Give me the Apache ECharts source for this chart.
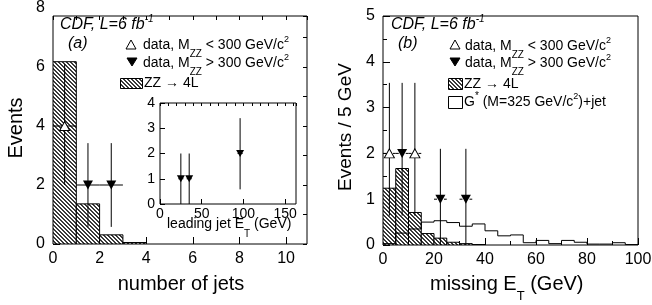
<!DOCTYPE html>
<html>
<head>
<meta charset="utf-8">
<script src="https://cdn.jsdelivr.net/npm/echarts@6/dist/echarts.min.js"></script>
<style>
html, body { margin: 0; padding: 0; background: #fff; }
#chart { width: 652px; height: 305px; }
</style>
</head>
<body>
<div id="chart"></div>
<script>
// (a) number of jets
var jetEdges = [0, 1, 2, 3, 4];
var jetZZ = [6.18, 1.36, 0.31, 0.05];
var jetLowX = [0.5], jetLowY = [4], jetLowDn = [2.0], jetLowUp = [6.1];
var jetHighX = [1.5, 2.5], jetHighY = [2, 2], jetHighDn = [0.58, 0.58], jetHighUp = [3.42, 3.42];
var jetTicks = [0, 2, 4, 6, 8, 10];
// inset: leading jet ET
var ljX = [25, 35, 96], ljY = [1, 1, 2], ljDn = [0, 0, 0.58], ljUp = [2.0, 2.0, 3.4];
// (b) missing ET, 5 GeV bins
var metEdges = [0, 5, 10, 15, 20, 25, 30, 35, 40, 45, 50, 55, 60, 65, 70, 75, 80, 85, 90, 95, 100];
var metZZ = [1.24, 1.67, 0.71, 0.25, 0.15, 0.06, 0.03, 0.01, 0, 0, 0, 0, 0, 0, 0, 0, 0, 0, 0, 0];
var metGstar = [0.03, 0.26, 0.35, 0.50, 0.53, 0.49, 0.41, 0.46, 0.31, 0.20, 0.22, 0.05, 0.10, 0.03, 0.10, 0.06, 0.02, 0.02, 0.05, 0.01];
var metLowX = [2.5, 12.5], metLowY = [2, 2], metLowDn = [0.64, 0.64], metLowUp = [3.54, 3.54];
var metHighX = [7.5, 22.5, 32.5], metHighY = [2, 1, 1], metHighDn = [0.64, 0, 0], metHighUp = [3.54, 2.1, 2.1];

var FONT = '"Liberation Sans", Arial, sans-serif';

// hatch pattern
var hc = document.createElement('canvas');
hc.width = 4; hc.height = 4;
var g = hc.getContext('2d');
g.fillStyle = '#fff'; g.fillRect(0, 0, 4, 4);
g.fillStyle = '#3a3a3a';
for (var i = 0; i < 4; i++) { g.fillRect(i, i, 1, 1); g.fillRect((i + 1) % 4, i, 1, 1); }
var hatch = { type: 'pattern', image: hc, repeat: 'repeat' };

function histData(edges, vals) {
	return vals.map(function(v, i) { return [edges[i], edges[i + 1], v, i ? vals[i - 1] : 0]; });
}
function errData(xs, ys, dn, up, xe) {
	return xs.map(function(x, i) { return [x, ys[i], dn[i], up[i], xe]; });
}
function pts(xs, ys) {
	return xs.map(function(x, i) { return [x, ys[i]]; });
}

function renderHist(params, api) {
	var v = api.value(2);
	if (v <= 0) return;
	var p0 = api.coord([api.value(0), 0]);
	var p1 = api.coord([api.value(1), v]);
	return {
		type: 'rect',
		shape: { x: p0[0], y: p1[1], width: p1[0] - p0[0], height: p0[1] - p1[1] },
		style: { fill: hatch, stroke: '#000', lineWidth: 1 }
	};
}
// open histogram outline: rise from previous bin, then across
function renderStep(params, api) {
	var a = api.coord([api.value(0), api.value(3)]);
	var b = api.coord([api.value(0), api.value(2)]);
	var c = api.coord([api.value(1), api.value(2)]);
	return { type: 'polyline', shape: { points: [a, b, c] }, style: { stroke: '#000', lineWidth: 1, fill: null } };
}
function renderErr(dash) {
	return function(params, api) {
		var x = api.value(0), y = api.value(1), xe = api.value(4);
		var a = api.coord([x, api.value(2)]), b = api.coord([x, api.value(3)]);
		var c = api.coord([x - xe, y]), d = api.coord([x + xe, y]);
		return {
			type: 'group',
			children: [
				{ type: 'line', shape: { x1: a[0], y1: a[1], x2: b[0], y2: b[1] }, style: { stroke: '#000', lineWidth: 1 } },
				{ type: 'line', shape: { x1: c[0], y1: c[1], x2: d[0], y2: d[1] }, style: { stroke: '#000', lineWidth: 1, lineDash: dash } }
			]
		};
	};
}

// axis helpers
function axis(grid, min, max, interval, tickLen, fs, margin, showMax, extra) {
	var a = {
		type: 'value', gridIndex: grid, min: min, max: max, interval: interval,
		axisLine: { show: false, onZero: false },
		axisTick: { show: true, inside: true, length: tickLen, lineStyle: { color: '#000', width: 1 } },
		axisLabel: { show: fs > 0, fontSize: fs, fontFamily: FONT, color: '#000', margin: margin, showMaxLabel: showMax, showMinLabel: true },
		splitLine: { show: false }
	};
	for (var k in extra) a[k] = extra[k];
	return a;
}

var meas = document.createElement('canvas').getContext('2d');
function runText(x, y, parts) {
	// parts: [text, size, dy, italic]
	var out = [], cx = x;
	parts.forEach(function(p) {
		var font = (p[3] ? 'italic ' : '') + p[1] + 'px ' + FONT;
		meas.font = font;
		out.push({ type: 'text', x: cx, y: y + p[2], silent: true,
			style: { text: p[0], font: font, fill: '#000', align: 'left', verticalAlign: 'middle', textAlign: 'left', textVerticalAlign: 'middle' } });
		cx += meas.measureText(p[0]).width;
	});
	return out;
}
function tri(x, y, down, fill) {
	var pts = down ? [[x - 5, y - 4], [x + 5, y - 4], [x, y + 4]] : [[x - 5, y + 4], [x + 5, y + 4], [x, y - 5]];
	return { type: 'polygon', shape: { points: pts }, style: { fill: fill, stroke: '#000', lineWidth: 1 } };
}
function ytitle(x, y, text, fs) {
	return { type: 'text', x: x, y: y, rotation: Math.PI / 2,
		style: { text: text, font: fs + 'px ' + FONT, fill: '#000', align: 'center', verticalAlign: 'middle', textAlign: 'center', textVerticalAlign: 'middle' } };
}

var graphics = [].concat(
	runText(60, 25, [['CDF, L=6 fb', 16, 0, true], ['-1', 10, -6, true]]),
	runText(68, 44, [['(a)', 16, 0, true]]),
	[tri(131, 45, false, '#fff')],
	runText(143, 45, [['data, M', 14, 0], ['ZZ', 10, 9], [' < 300 GeV/c', 14, 0], ['2', 9, -5]]),
	[tri(132, 62, true, '#000')],
	runText(143, 63, [['data, M', 14, 0], ['ZZ', 10, 9], [' > 300 GeV/c', 14, 0], ['2', 9, -5]]),
	[{ type: 'rect', shape: { x: 120.5, y: 78.5, width: 22, height: 10 }, style: { fill: hatch, stroke: '#000', lineWidth: 1 } }],
	runText(144, 83.5, [['ZZ \u2192 4L', 14, 0]]),

	runText(391, 25, [['CDF, L=6 fb', 16, 0, true], ['-1', 10, -6, true]]),
	runText(398, 44, [['(b)', 16, 0, true]]),
	[tri(455, 45, false, '#fff')],
	runText(465, 46, [['data, M', 14, 0], ['ZZ', 10, 9], [' < 300 GeV/c', 14, 0], ['2', 9, -5]]),
	[tri(455, 62, true, '#000')],
	runText(465, 63, [['data, M', 14, 0], ['ZZ', 10, 9], [' > 300 GeV/c', 14, 0], ['2', 9, -5]]),
	[{ type: 'rect', shape: { x: 448.5, y: 78.5, width: 14, height: 11 }, style: { fill: hatch, stroke: '#000', lineWidth: 1 } }],
	runText(464, 84.5, [['ZZ \u2192 4L', 14, 0]]),
	[{ type: 'rect', shape: { x: 448.5, y: 96.5, width: 14, height: 12 }, style: { fill: '#fff', stroke: '#000', lineWidth: 1 } }],
	runText(464, 102, [['G', 14, 0], ['*', 10, -6], [' (M=325 GeV/c', 14, 0], ['2', 9, -5], [')+jet', 14, 0]]),

	// axis titles
	[{ type: 'text', x: 181, y: 284, style: { text: 'number of jets', font: '20px ' + FONT, fill: '#000', align: 'center', verticalAlign: 'middle', textAlign: 'center', textVerticalAlign: 'middle' } }],
	runText(430, 284, [['missing E', 20, 0], ['T', 13, 12], [' (GeV)', 20, 0]]),
	runText(167, 224, [['leading jet E', 14, 0], ['T', 10, 10], [' (GeV)', 14, 0]]),
	[ytitle(16, 128, 'Events', 20), ytitle(346, 127, 'Events / 5 GeV', 19)]
);

var chart = echarts.init(document.getElementById('chart'), null, { renderer: 'canvas' });
var minor = { show: true, splitNumber: 2, length: 4, lineStyle: { color: '#000' } };
var option = {
	animation: false,
	backgroundColor: '#fff',
	grid: [
		{ left: 53, top: 16, width: 254, height: 228, show: true, borderColor: '#000', borderWidth: 1, outerBoundsMode: 'none' },
		{ left: 160, top: 103, width: 136, height: 101, show: true, borderColor: '#000', borderWidth: 1, backgroundColor: '#fff', outerBoundsMode: 'none' },
		{ left: 383, top: 16, width: 255, height: 229, show: true, borderColor: '#000', borderWidth: 1, outerBoundsMode: 'none' }
	],
	xAxis: [
		axis(0, 0, 10.9, 2, 7, 16, 7, false),
		axis(0, 0, 10.9, 1, 4, 0, 0, false),
		axis(1, 0, 163, 50, 5, 14, 3, false),
		axis(1, 0, 163, 10, 3, 0, 0, false),
		axis(2, 0, 100, 20, 7, 16, 7, true, { minorTick: minor })
	],
	yAxis: [
		axis(0, 0, 7.73, 2, 7, 16, 8, false),
		axis(0, 0, 7.73, 1, 4, 0, 0, false),
		axis(1, 0, 4, 1, 5, 14, 5, true),
		axis(2, 0, 5, 1, 7, 16, 8, true, { minorTick: minor })
	],
	series: [
		// (a)
		{ type: 'custom', xAxisIndex: 0, yAxisIndex: 0, renderItem: renderHist, data: histData(jetEdges, jetZZ), clip: true, z: 2, silent: true },
		{ type: 'custom', xAxisIndex: 0, yAxisIndex: 0, renderItem: renderErr(null), data: errData(jetLowX, jetLowY, jetLowDn, jetLowUp, 0.5), z: 4, silent: true },
		{ type: 'custom', xAxisIndex: 0, yAxisIndex: 0, renderItem: renderErr(null), data: errData(jetHighX, jetHighY, jetHighDn, jetHighUp, 0.5), z: 4, silent: true },
		{ type: 'scatter', xAxisIndex: 0, yAxisIndex: 0, symbol: 'triangle', symbolSize: [10, 9], data: pts(jetLowX, jetLowY),
			itemStyle: { color: '#fff', borderColor: '#000', borderWidth: 1, opacity: 1 }, z: 5, silent: true },
		{ type: 'scatter', xAxisIndex: 0, yAxisIndex: 0, symbol: 'triangle', symbolRotate: 180, symbolSize: [10, 9], data: pts(jetHighX, jetHighY),
			itemStyle: { color: '#000', opacity: 1 }, z: 5, silent: true },
		// inset
		{ type: 'custom', xAxisIndex: 2, yAxisIndex: 2, renderItem: renderErr([2, 2]), data: errData(ljX, ljY, ljDn, ljUp, 3), z: 4, silent: true },
		{ type: 'scatter', xAxisIndex: 2, yAxisIndex: 2, symbol: 'triangle', symbolRotate: 180, symbolSize: [8, 7], data: pts(ljX, ljY),
			itemStyle: { color: '#000', opacity: 1 }, z: 5, silent: true },
		// (b)
		{ type: 'custom', xAxisIndex: 4, yAxisIndex: 3, renderItem: renderHist, data: histData(metEdges, metZZ), clip: true, z: 2, silent: true },
		{ type: 'custom', xAxisIndex: 4, yAxisIndex: 3, renderItem: renderStep, data: histData(metEdges, metGstar), clip: true, z: 3, silent: true },
		{ type: 'custom', xAxisIndex: 4, yAxisIndex: 3, renderItem: renderErr([3, 2]), data: errData(metLowX, metLowY, metLowDn, metLowUp, 2.5), z: 4, silent: true },
		{ type: 'custom', xAxisIndex: 4, yAxisIndex: 3, renderItem: renderErr([3, 2]), data: errData(metHighX, metHighY, metHighDn, metHighUp, 2.5), z: 4, silent: true },
		{ type: 'scatter', xAxisIndex: 4, yAxisIndex: 3, symbol: 'triangle', symbolSize: [10, 9], data: pts(metLowX, metLowY),
			itemStyle: { color: '#fff', borderColor: '#000', borderWidth: 1, opacity: 1 }, z: 5, silent: true },
		{ type: 'scatter', xAxisIndex: 4, yAxisIndex: 3, symbol: 'triangle', symbolRotate: 180, symbolSize: [10, 9], data: pts(metHighX, metHighY),
			itemStyle: { color: '#000', opacity: 1 }, z: 5, silent: true }
	]
};
chart.setOption(option);

// the "8" label sits just above the frame of (a)
var y8 = chart.convertToPixel({ yAxisIndex: 0 }, jetTicks[4]);
graphics.push({ type: 'text', x: 45, y: y8, style: { text: String(jetTicks[4]), font: '16px ' + FONT, fill: '#000', align: 'right', verticalAlign: 'middle', textAlign: 'right', textVerticalAlign: 'middle' } });
chart.setOption({ graphic: { elements: graphics } });
</script>
</body>
</html>
